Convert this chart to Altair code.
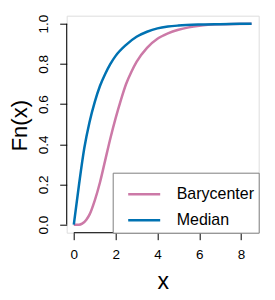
import altair as alt
import pandas as pd

median_x = [0, 0.25, 0.5, 0.75, 1.0, 1.25, 1.5, 1.75, 2.0, 2.5, 3.0, 3.5, 4.0, 4.5, 5.0, 6.0, 7.0, 8.5]
median_y = [0, 0.20, 0.38, 0.51, 0.61, 0.69, 0.75, 0.80, 0.84, 0.895, 0.935, 0.96, 0.977, 0.986, 0.991, 0.996, 0.998, 1.0]

bary_x = [0, 0.25, 0.4, 0.6, 0.75, 1.0, 1.25, 1.5, 1.75, 2.0, 2.25, 2.5, 2.75, 3.0, 3.5, 4.0, 4.5, 5.0, 5.5, 6.0, 7.0, 8.5]
bary_y = [0, 0, 0.005, 0.025, 0.05, 0.12, 0.21, 0.32, 0.43, 0.53, 0.62, 0.70, 0.76, 0.81, 0.88, 0.925, 0.952, 0.97, 0.982, 0.99, 0.997, 1.0]

series_names = ["Barycenter", "Median"]
series_colors = ["#CC79A7", "#0072B2"]

x_ticks = [0, 2, 4, 6, 8]
y_ticks = [0, 0.2, 0.4, 0.6, 0.8, 1.0]

df = pd.concat([
    pd.DataFrame({"x": bary_x, "y": bary_y, "series": "Barycenter", "o": range(len(bary_x))}),
    pd.DataFrame({"x": median_x, "y": median_y, "series": "Median", "o": range(len(median_x))}),
])

W, H = 192, 217
FONT = "Liberation Sans"

xscale = alt.Scale(domain=[-0.34, 8.84], nice=False, zero=False)
yscale = alt.Scale(domain=[-0.04, 1.04], nice=False, zero=False)

lines = alt.Chart(df).mark_line(strokeWidth=2.5, interpolate="monotone", clip=True).encode(
    x=alt.X("x:Q", scale=xscale, axis=alt.Axis(
        values=x_ticks, title="x", domain=False, grid=False, tickSize=7, tickColor="black",
        labelFontSize=13.5, labelPadding=8, labelColor="black", labelFont=FONT,
        titleFontSize=23, titleFontWeight="normal", titleFont=FONT, titleColor="black",
        titleX=W / 2, titleY=49, titleBaseline="middle", titleAlign="center")),
    y=alt.Y("y:Q", scale=yscale, axis=alt.Axis(
        values=y_ticks, format=".1f", title="Fn(x)", domain=False, grid=False, tickSize=7,
        tickColor="black", labelAngle=270, labelAlign="center", labelBaseline="bottom",
        labelFontSize=13.5, labelPadding=9, labelColor="black", labelFont=FONT,
        titleFontSize=22, titleFontWeight="normal", titleFont=FONT, titleColor="black",
        titleAngle=270, titleX=-47, titleY=H / 2 + 1, titleBaseline="middle", titleAlign="center")),
    color=alt.Color("series:N", scale=alt.Scale(domain=series_names, range=series_colors),
                    legend=alt.Legend(title=None, orient="bottom-right", offset=0,
                                      strokeColor="#808080", fillColor="white", padding=4,
                                      symbolType="stroke", symbolSize=1024, symbolStrokeWidth=2.5,
                                      symbolOffset=10,
                                      labelFontSize=16, labelFont=FONT, labelColor="black",
                                      labelOffset=15, rowPadding=-14)),
    order="o:Q",
)

ydom = alt.Chart(pd.DataFrame({"a": [0], "b": [1]})).mark_rule(color="black", strokeWidth=1).encode(
    x=alt.value(0), y=alt.Y("a:Q", scale=yscale), y2="b:Q")
xdom = alt.Chart(pd.DataFrame({"a": [0], "b": [8]})).mark_rule(color="black", strokeWidth=1).encode(
    y=alt.value(H), x=alt.X("a:Q", scale=xscale), x2="b:Q")

chart = alt.layer(lines, ydom, xdom).properties(
    width=W, height=H,
    autosize=alt.AutoSizeParams(type="none"),
    padding={"left": 58.7, "top": 7.7, "right": 8, "bottom": 60},
).configure_view(stroke="#808080", strokeWidth=1).configure(background="white")

chart.save("out.html", embed_options={"renderer": "svg", "actions": False})
